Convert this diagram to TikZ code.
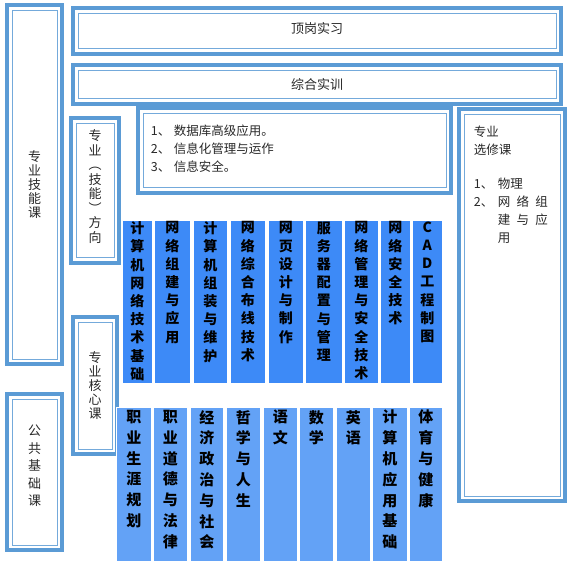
\documentclass[tikz,border=0pt]{standalone}
\usepackage{fontspec}
\setmainfont{Noto Sans CJK SC}
\usetikzlibrary{positioning,fit}
\definecolor{frameblue}{RGB}{91,155,213}
\definecolor{colblue}{RGB}{61,138,247}
\definecolor{colsoft}{RGB}{99,162,246}
\definecolor{inktext}{RGB}{40,40,40}

\begin{document}
\begin{tikzpicture}[x=1pt,y=-1pt]

\tikzset{
  frame/.style={draw=frameblue, line width=4.5pt, inner sep=0pt},
  innerline/.style={draw=frameblue!85, line width=0.9pt},
  frameword/.style={inner sep=0pt, text=inktext, align=center,
                font=\fontsize{13}{14}\selectfont},
  plaintext/.style={inner sep=0pt, text=inktext, align=left,
                font=\fontsize{12.5}{18}\selectfont},
  topcol/.style={fill=colblue, draw=white, line width=0.6pt, inner sep=0pt,
                minimum height=163pt},
  lowcol/.style={fill=colsoft, draw=white, line width=0.6pt, inner sep=0pt,
                minimum height=154pt},
  topword/.style={inner sep=0pt, align=center, text=black,
                font=\bfseries\fontsize{14}{18.2}\selectfont},
  lowword/.style={inner sep=0pt, align=center, text=black,
                font=\bfseries\fontsize{15}{20.8}\selectfont}
}

\useasboundingbox (0,0) rectangle (571,567);

% Frames
\node[frame, fit={(7,5) (62,364)}]    (skill) {};
\node[frame, fit={(7,394) (62,550)}]  (basic) {};
\node[frame, fit={(73,8) (561,54)}]   (intern) {};
\node[frame, fit={(73,65) (561,104)}] (train) {};
\node[frame, fit={(71,118) (119,263)}] (direct) {};
\node[frame, fit={(73,317) (117,454)}] (core) {};
\node[frame, fit={(138,108) (451,193)}] (dirlist) {};
\node[frame, fit={(459,109) (565,501)}] (elective) {};

% thin inner line of every frame
\foreach \n in {skill,basic,intern,train,direct,core,dirlist,elective}
  \draw[innerline] ([shift={(7.3pt,-7.3pt)}]\n.north west) rectangle
                   ([shift={(-7.3pt,7.3pt)}]\n.south east);

% Frame titles
\node[frameword] (skilltext) at (skill.center) {专\\业\\技\\能\\课};
\node[frameword, font=\fontsize{13}{17.5}\selectfont] (basictext)
  at ([yshift=6pt]basic.center) {公\\共\\基\\础\\课};
\node[frameword] (interntext) at ([yshift=2pt]intern.center) {顶岗实习};
\node[frameword] (traintext) at (train.center) {综合实训};
\node[frameword, font=\fontsize{13}{14.5}\selectfont] (directtext)
  at ([yshift=4pt]direct.center) {专\\业\\︵\\技\\能\\︶\\方\\向};
\node[frameword] (coretext) at (core.center) {专\\业\\核\\心\\课};

% Texts in the two list boxes
\node[plaintext, below right=19pt and 15pt of dirlist.north west] (dirtext)
  {\makebox[23pt][l]{1、}数据库高级应用。\\
   \makebox[23pt][l]{2、}信息化管理与运作\\
   \makebox[23pt][l]{3、}信息安全。};
\node[plaintext, below right=19pt and 17pt of elective.north west] (eltext)
  {专业\\选修课\\[16pt]
   \makebox[24pt][l]{1、}物理\\
   \makebox[24pt][l]{2、}网\enspace 络\enspace 组\\
   \hspace*{24pt}建\enspace 与\enspace 应\\
   \hspace*{24pt}用};

% Core courses
\foreach \x/\w/\txt [count=\i] in {
  122/30/{计\\算\\机\\网\\络\\技\\术\\基\\础},
  154/36/{网\\络\\组\\建\\与\\应\\用},
  193/34/{计\\算\\机\\组\\装\\与\\维\\护},
  230/35/{网\\络\\综\\合\\布\\线\\技\\术},
  268/35/{网\\页\\设\\计\\与\\制\\作},
  305/37/{服\\务\\器\\配\\置\\与\\管\\理},
  344/34/{网\\络\\管\\理\\与\\安\\全\\技\\术},
  380/30/{网\\络\\安\\全\\技\\术},
  412/30/{C\\A\\D\\工\\程\\制\\图}}{
  \node[topcol, minimum width=\w pt, anchor=north west] (top\i) at (\x,220) {};
  \node[topword, below=1.5pt of top\i.north] (topw\i) {\txt};
}

% Public basic courses
\foreach \x/\w/\txt [count=\i] in {
  116/35/{职\\业\\生\\涯\\规\\划},
  153/34/{职\\业\\道\\德\\与\\法\\律},
  190/33/{经\\济\\政\\治\\与\\社\\会},
  226/34/{哲\\学\\与\\人\\生},
  263/34/{语\\文},
  299/34/{数\\学},
  336/34/{英\\语},
  372/35/{计\\算\\机\\应\\用\\基\\础},
  409/33/{体\\育\\与\\健\\康}}{
  \node[lowcol, minimum width=\w pt, anchor=north west] (low\i) at (\x,407) {};
  \node[lowword, below=3pt of low\i.north] (loww\i) {\txt};
}

\end{tikzpicture}
\end{document}
